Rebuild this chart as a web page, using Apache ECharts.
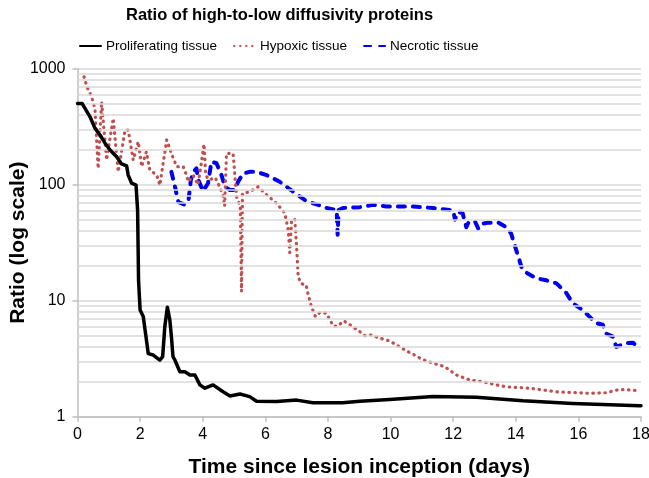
<!DOCTYPE html>
<html>
<head>
<meta charset="utf-8">
<script src="https://cdn.jsdelivr.net/npm/echarts@6/dist/echarts.min.js"></script>
<style>html,body{margin:0;padding:0;background:#fff}#c{width:649px;height:478px}</style>
</head>
<body>
<div id="c"></div>
<script>
const titleText = 'Ratio of high-to-low diffusivity proteins';
const seriesNames = ['Proliferating tissue', 'Hypoxic tissue', 'Necrotic tissue'];
const xTicks = { min: 0, max: 18, interval: 2 };
const yTickLabels = ['1', '10', '100', '1000'];
const minorGridValues = [2,3,4,5,6,7,8,9,20,30,40,50,60,70,80,90,200,300,400,500,600,700,800,900];

const prolifDays = [0,0.15,0.24,0.4,0.56,0.72,0.88,1.04,1.25,1.41,1.57,1.62,1.73,1.87,1.92,1.95,2.0,2.1,2.26,2.42,2.63,2.72,2.79,2.87,2.95,3.0,3.05,3.11,3.27,3.43,3.59,3.75,3.91,4.07,4.33,4.65,4.87,5.19,5.5,5.72,6.36,7.0,7.52,8.47,9.02,9.97,11.36,12.74,14.23,15.82,17.95,18];
const prolifRatio = [500,500,455,385,306,268,228,199,174,151,145,121,103,99,60,15,8.3,7.3,3.5,3.4,3.08,3.3,6.0,8.8,6.8,4.9,3.3,3.08,2.44,2.44,2.29,2.29,1.88,1.76,1.88,1.64,1.51,1.57,1.49,1.36,1.35,1.39,1.32,1.32,1.36,1.41,1.49,1.47,1.37,1.30,1.24,1.24];

const hypoxDays = [0.21,0.3,0.4,0.5,0.56,0.66,0.77,0.93,1.14,1.3,1.52,1.62,1.78,1.94,2.05,2.2,2.31,2.53,2.63,2.85,3.0,3.17,3.38,3.48,3.54,3.7,3.85,3.95,4.04,4.1,4.2,4.4,4.55,4.65,4.7,4.76,4.97,5.08,5.15,5.2,5.24,5.27,5.5,5.77,6.04,6.36,6.62,6.73,6.78,6.84,6.94,7.0,7.05,7.15,7.3,7.36,7.47,7.6,7.74,7.95,8.17,8.32,8.5,8.7,9.02,9.17,9.39,9.6,9.97,10.19,10.56,10.77,10.99,11.36,11.73,12.1,12.53,12.95,13.38,13.7,14.44,15.3,16.36,16.89,17.32,17.95];
const hypoxRatio = [851,700,614,520,441,138,520,163,373,129,296,296,163,235,143,192,134,121,99,243,186,143,143,121,106,120,100,150,224,120,110,115,95,79,65,186,186,79,70,65,12,84,87,96,82,69,57,41,26,50,50,29,16,14,13.7,11.6,8.9,7.3,7.9,7.8,6.05,6.05,6.7,6.2,5.4,5.0,5.06,4.8,4.5,4.15,3.63,3.4,3.13,2.89,2.7,2.29,2.07,2.0,1.88,1.81,1.76,1.64,1.59,1.61,1.72,1.68];

const necroDays = [3.0,3.1,3.22,3.43,3.55,3.62,3.7,3.8,3.86,4.01,4.17,4.28,4.44,4.6,4.71,4.87,5.02,5.13,5.29,5.5,5.72,6.04,6.46,6.89,7.32,7.69,7.95,8.28,8.31,8.34,8.48,9.02,9.44,9.87,10.61,11.36,12.0,12.06,12.15,12.3,12.42,12.5,12.7,12.8,12.9,13.1,13.45,13.7,13.85,14.02,14.18,14.33,14.66,14.97,15.3,15.62,15.82,16.14,16.41,16.57,16.78,16.89,17.1,17.21,17.53,17.74,17.9,18];
const necroRatio = [129,100,71,67,75,110,129,138,110,88,103,158,153,121,96,90,90,106,125,129,129,121,106,87,72,67,63,60.5,37,60.5,63,64,67,65,65,63,60,50,58,57,43,48,48,42,46,47,47,43,38,27,19.6,17.5,15.6,15,14.1,11.6,9.5,8.3,7.05,6.4,6.2,5.2,4.9,4.0,4.3,4.35,4.0,4.0];

const pairs = (xs, ys) => xs.map((x, i) => [x, ys[i]]);
const fontFam = '"Liberation Sans", Arial, sans-serif';

const chart = echarts.init(document.getElementById('c'), null, { renderer: 'canvas' });
chart.setOption({
  animation: false,
  backgroundColor: '#ffffff',
  title: {
    text: titleText, left: 121, top: 2,
    textStyle: { fontFamily: fontFam, fontSize: 16.5, fontWeight: 'bold', color: '#000' }
  },
  legend: {
    data: seriesNames, left: 74, top: 34, itemWidth: 21, itemHeight: 4, itemGap: 16,
    itemStyle: { opacity: 0, borderWidth: 0 },
    textStyle: { fontFamily: fontFam, fontSize: 13.5, color: '#000' }
  },
  grid: { left: 77.5, right: 8, top: 68.7, bottom: 61.3, containLabel: false, outerBoundsMode: 'none' },
  xAxis: {
    type: 'value', min: xTicks.min, max: xTicks.max, interval: xTicks.interval,
    name: 'Time since lesion inception (days)', nameLocation: 'middle', nameGap: 40,
    nameTextStyle: { fontFamily: fontFam, fontSize: 21, fontWeight: 'bold', color: '#000' },
    axisLine: { show: true, onZero: false, lineStyle: { color: '#bfbfbf', width: 1.5 } },
    axisTick: { show: true, length: 5, lineStyle: { color: '#bfbfbf', width: 1.5 } },
    axisLabel: { fontFamily: fontFam, fontSize: 16, color: '#000', margin: 10 },
    splitLine: { show: false }
  },
  yAxis: {
    type: 'log', logBase: 10, min: 1, max: 1000,
    name: 'Ratio (log scale)', nameLocation: 'middle', nameGap: 49, nameMoveOverlap: false,
    nameTextStyle: { fontFamily: fontFam, fontSize: 21, fontWeight: 'bold', color: '#000' },
    axisLine: { show: true, lineStyle: { color: '#bfbfbf', width: 1.5 } },
    axisTick: { show: true, length: 5, lineStyle: { color: '#bfbfbf', width: 1.5 } },
    axisLabel: { fontFamily: fontFam, fontSize: 16, color: '#000', margin: 12,
      formatter: v => { const s = String(Math.round(v)); return yTickLabels.includes(s) ? s : ''; } },
    splitLine: { show: true, lineStyle: { color: '#d9d9d9', width: 1.5 } }
  },
  series: [
    {
      name: 'grid-minor', type: 'line', data: [], silent: true, z: 1,
      markLine: { silent: true, symbol: 'none', label: { show: false },
        lineStyle: { color: '#d9d9d9', width: 1.5, type: 'solid' },
        data: minorGridValues.map(v => ({ yAxis: v })) }
    },
    {
      name: seriesNames[0], type: 'line', data: pairs(prolifDays, prolifRatio), showSymbol: false, symbol: 'none', z: 5,
      lineStyle: { color: '#000000', width: 3.5, join: 'round', cap: 'round' }, itemStyle: { color: '#000' }
    },
    {
      name: seriesNames[1], type: 'line', data: pairs(hypoxDays, hypoxRatio), showSymbol: false, symbol: 'none', z: 4,
      lineStyle: { color: '#c0504d', width: 3.2, type: [0.5, 5.5], cap: 'round', join: 'round' }, itemStyle: { color: '#c0504d' }
    },
    {
      name: seriesNames[2], type: 'line', data: pairs(necroDays, necroRatio), showSymbol: false, symbol: 'none', z: 3,
      lineStyle: { color: '#0000ee', width: 4, type: [7, 8], cap: 'round', join: 'round' }, itemStyle: { color: '#0000ee' }
    }
  ]
});
</script>
</body>
</html>
